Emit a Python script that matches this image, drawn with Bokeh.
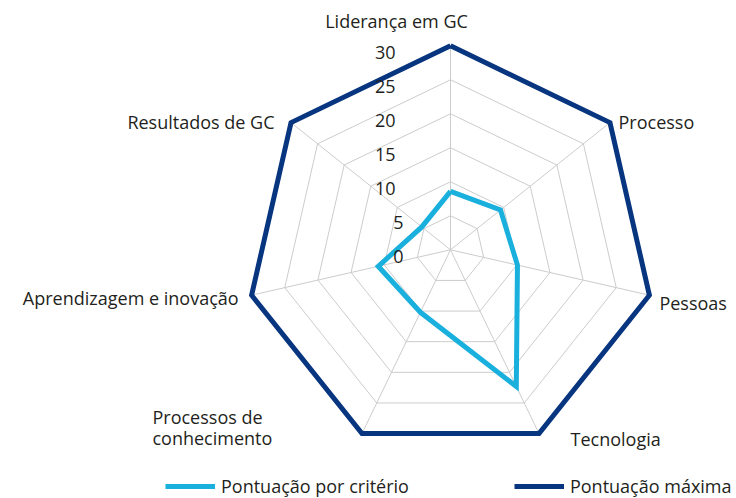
import math
from bokeh.plotting import figure
from bokeh.models import ColumnDataSource, Legend, LegendItem
from bokeh.core.properties import value
from bokeh.embed import file_html
from bokeh.resources import INLINE

# ---- data ----
categories = ["Liderança em GC", "Processo", "Pessoas", "Tecnologia",
              "Processos de\nconhecimento", "Aprendizagem e inovação", "Resultados de GC"]
score = [8.6, 9.4, 10.1, 22.3, 10.2, 10.9, 5.4]
maximum = [30, 30, 30, 30, 30, 30, 30]
ticks = [0, 5, 10, 15, 20, 25, 30]
series_names = ["Pontuação por critério", "Pontuação máxima"]

# ---- layout / style ----
W, H = 736, 498
PX = 6.8                      # pixels per unit
CX, CY = 450.0, 249.3         # centre in figure pixels (from top-left)
LIGHT = "#19b0dd"
DARK = "#08357f"
GRID = "#cccccc"
TXT = "#231f20"
FONT = "Open Sans"
FS = "18px"

x0 = -CX / PX
x1 = (W - CX) / PX
y1 = CY / PX
y0 = -(H - CY) / PX

p = figure(width=W, height=H, x_range=(x0, x1), y_range=(y0, y1),
           output_backend="svg", toolbar_location=None, min_border=0,
           outline_line_color=None)
p.axis.visible = False
p.grid.visible = False
p.background_fill_color = "white"

n = len(categories)
ang = [math.pi / 2 - 2 * math.pi * i / n for i in range(n)]

def poly(vals):
    xs = [v * math.cos(a) for v, a in zip(vals, ang)]
    ys = [v * math.sin(a) for v, a in zip(vals, ang)]
    return xs + xs[:1], ys + ys[:1]

rmax = max(ticks)
# grid rings
for t in ticks[1:]:
    xs, ys = poly([t] * n)
    p.line(xs, ys, line_color=GRID, line_width=1)
# spokes
p.segment(x0=[0] * n, y0=[0] * n,
          x1=[rmax * math.cos(a) for a in ang],
          y1=[rmax * math.sin(a) for a in ang],
          line_color=GRID, line_width=1)

xs, ys = poly(maximum)
r_max = p.line(xs, ys, line_color=DARK, line_width=5, line_join="miter")
xs, ys = poly(score)
r_score = p.line(xs, ys, line_color=LIGHT, line_width=5, line_join="miter")

# tick labels
tsrc = ColumnDataSource(dict(
    x=[0] * len(ticks), y=ticks, text=[str(t) for t in ticks],
    xo=[-55 if t >= 10 else -47 for t in ticks]))
p.text(x="x", y="y", text="text", x_offset="xo", y_offset=7, source=tsrc,
       text_align="right", text_baseline="middle", text_color=TXT,
       text_font=value(FONT), text_font_size=FS)

# category labels
xoff = [-54, 8.5, 10, 31.5, -209.5, -13, -16.5]
yoff = [-25, -1, 8, 5, -6, 3, -1]
align = ["center", "left", "left", "left", "left", "right", "right"]
csrc = ColumnDataSource(dict(
    x=[rmax * math.cos(a) for a in ang], y=[rmax * math.sin(a) for a in ang],
    text=categories, xo=xoff, yo=yoff, al=align))
p.text(x="x", y="y", text="text", x_offset="xo", y_offset="yo", text_align="al",
       source=csrc, text_baseline="middle", text_color=TXT,
       text_font=value(FONT), text_font_size=FS, text_line_height=0.9)

legend = Legend(items=[LegendItem(label=series_names[0], renderers=[r_score]),
                       LegendItem(label=series_names[1], renderers=[r_max])],
                orientation="horizontal", location=(165, 0),
                glyph_width=50, glyph_height=18, label_height=18,
                label_standoff=6, spacing=105, padding=0, margin=0,
                border_line_alpha=0, background_fill_alpha=0,
                label_text_font=FONT, label_text_font_size=FS,
                label_text_color=TXT)
p.add_layout(legend, "center")

open("out.html", "w").write(file_html(p, INLINE))
